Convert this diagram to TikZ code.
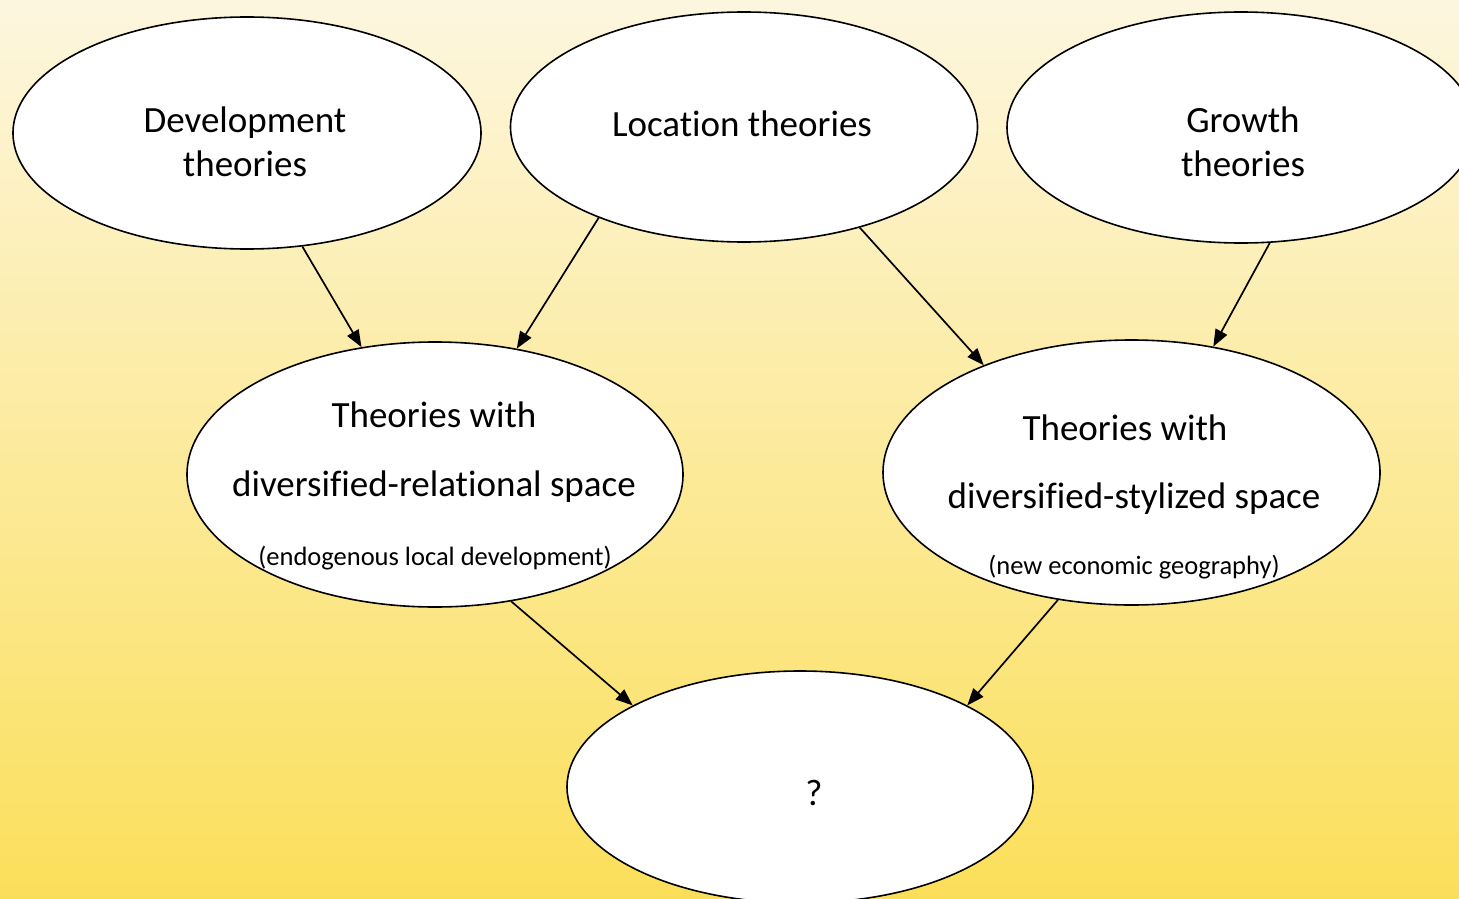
\documentclass[tikz,border=0pt]{standalone}
\usepackage{fontspec}
\setmainfont{Carlito}[Ligatures=NoCommon]
\usetikzlibrary{shapes.geometric,arrows.meta}
\definecolor{bgtop}{RGB}{253,246,223}
\definecolor{bgbot}{RGB}{251,223,90}
\tikzset{
  oval/.style={ellipse, draw=black, line width=1.6pt, fill=white, inner sep=0pt},
  big/.style={anchor=base, inner sep=0pt, font=\fontsize{37}{44}\selectfont},
  small/.style={anchor=base, inner sep=0pt, font=\fontsize{26.5}{30}\selectfont},
  flow/.style={line width=1.7pt, -{Triangle[length=17pt,width=13pt]}}
}
\begin{document}
\begin{tikzpicture}[x=1pt,y=-1pt]
  % background with vertical gradient
  \shade[top color=bgtop, bottom color=bgbot] (0,0) rectangle (1459,899);
  \useasboundingbox (0,0) rectangle (1459,899);
  \begin{scope}
    \clip (0,0) rectangle (1459,899);
    % ovals
    \node[oval, minimum width=468pt, minimum height=232pt] (dev) at (247,133) {};
    \node[oval, minimum width=467pt, minimum height=230pt] (loc) at (744,127) {};
    \node[oval, minimum width=468pt, minimum height=231pt] (gro) at (1241,127.5) {};
    \node[oval, minimum width=496pt, minimum height=265pt] (rel) at (435,474.5) {};
    \node[oval, minimum width=497pt, minimum height=265pt] (sty) at (1131.5,472.5) {};
    \node[oval, minimum width=466pt, minimum height=232pt] (que) at (800,787) {};
  \end{scope}
  % labels
  \node[big] (devA) at (245,132) {Development};
  \node[big] (devB) at (245,176) {theories};
  \node[big] (locA) at (742,136) {Location theories};
  \node[big] (groA) at (1243,132) {Growth};
  \node[big] (groB) at (1243,176) {theories};
  \node[big] (relA) at (434,427) {Theories with};
  \node[big] (relB) at (434,496) {diversified-relational space};
  \node[small] (relC) at (435,565) {(endogenous local development)};
  \node[big] (styA) at (1125,440) {Theories with};
  \node[big] (styB) at (1134,508) {diversified-stylized space};
  \node[small] (styC) at (1134,574) {(new economic geography)};
  \node[big] (queA) at (814,805) {?};
  % connectors
  \draw[flow] (dev.-64.2) -- (rel.120);
  \draw[flow] (loc.212.6) -- (rel.57.6);
  \draw[flow] (loc.-41.8) -- (sty.144.4);
  \draw[flow] (gro.-76.3) -- (sty.57.3);
  \draw[flow] (rel.-59.8) -- (que.154.5);
  \draw[flow] (sty.-120.8) -- (que.26.8);
\end{tikzpicture}
\end{document}
